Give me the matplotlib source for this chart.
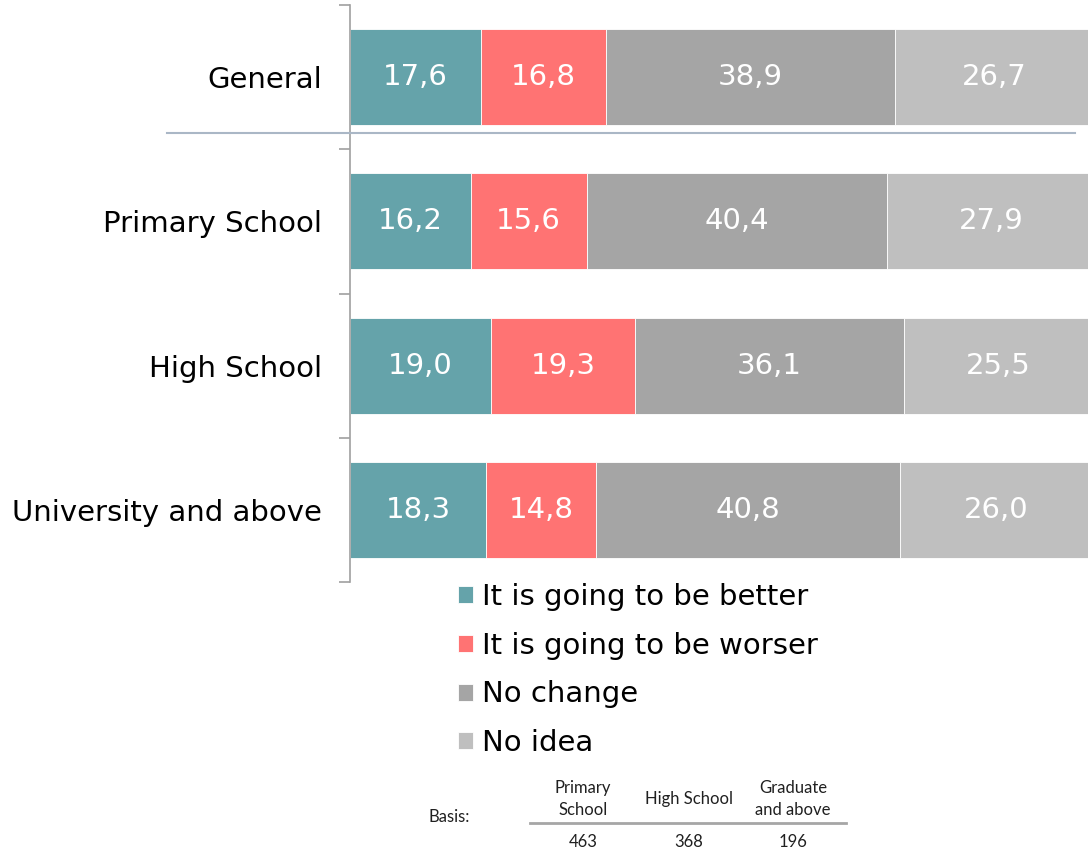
import numpy as np
import matplotlib
matplotlib.use("Agg")
from matplotlib import pyplot as plt
from matplotlib.lines import Line2D

categories = ["General", "Primary School", "High School", "University and above"]
series_names = ["It is going to be better", "It is going to be worser",
                "No change", "No idea"]
better = [17.6, 16.2, 19.0, 18.3]
worser = [16.8, 15.6, 19.3, 14.8]
no_change = [38.9, 40.4, 36.1, 40.8]
no_idea = [26.7, 27.9, 25.5, 26.0]
colors = ["#65a3aa", "#ff7373", "#a5a5a5", "#bfbfbf"]

basis_labels = ["Primary\nSchool", "High School", "Graduate\nand above"]
basis_values = [463, 368, 196]

W, H = 1088, 850
fig = plt.figure(figsize=(W / 100, H / 100), dpi=100)
ax = fig.add_axes([350 / W, 1 - 582 / H, 744 / W, 577 / H])

y = np.arange(len(categories))
left = np.zeros(len(categories))
bars = []
for vals, name, col in zip([better, worser, no_change, no_idea], series_names, colors):
    b = ax.barh(y, vals, left=left, height=0.667, color=col, edgecolor="white",
                linewidth=0.6, label=name)
    bars.append(b)
    for yi, v, l in zip(y, vals, left):
        ax.text(l + v / 2, yi, f"{v:.1f}".replace(".", ","), ha="center", va="center",
                color="white", fontsize=21)
    left = left + np.array(vals)

ax.set_xlim(0, 100)
ax.set_ylim(len(categories) - 0.5, -0.5)
ax.set_yticks(y)
ax.set_yticklabels(categories, fontsize=21)
ax.tick_params(axis="y", which="major", length=0, pad=20)
ax.set_yticks(np.arange(-0.5, len(categories)), minor=True)
ax.tick_params(axis="y", which="minor", length=8, width=1.2, color="#a0a0a0")
ax.set_xticks([])
for s in ["top", "right", "bottom"]:
    ax.spines[s].set_visible(False)
ax.spines["left"].set_color("#a0a0a0")
ax.spines["left"].set_linewidth(1.2)

# separator between General and the groups
fig.lines.append(Line2D([167 / W, 1075 / W], [1 - 133 / H, 1 - 133 / H],
                        transform=fig.transFigure, color="#aab7c6", linewidth=1.5))

fig.legend(handles=bars, labels=series_names, loc="upper left",
           bbox_to_anchor=(446 / W, 1 - 571 / H), frameon=False, fontsize=21,
           handlelength=0.52, handleheight=0.52, handletextpad=0.32,
           labelspacing=0.715, borderaxespad=0)

# basis table
tfont = "Lato"
tsize = 12
fig.text(428 / W, 1 - 817 / H, "Basis:", ha="left", va="center", fontsize=tsize,
         family=tfont, color="#202020")
xs = [583, 689, 793]
for xc, lab, val in zip(xs, basis_labels, basis_values):
    fig.text(xc / W, 1 - 799 / H, lab, ha="center", va="center", fontsize=tsize,
             family=tfont, color="#202020", linespacing=1.45)
    fig.text(xc / W, 1 - 842 / H, str(val), ha="center", va="center", fontsize=tsize,
             family=tfont, color="#202020")
fig.lines.append(Line2D([530 / W, 846 / W], [1 - 823 / H, 1 - 823 / H],
                        transform=fig.transFigure, color="#a6a6a6", linewidth=2))

fig.savefig("out.png", dpi=100)
